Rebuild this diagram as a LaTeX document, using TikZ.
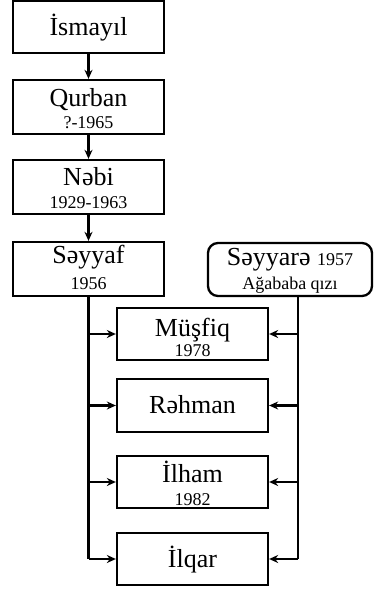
\documentclass[tikz,border=0pt]{standalone}
\usepackage{fontspec}
\setmainfont{Liberation Serif}
\usetikzlibrary{arrows.meta}
\begin{document}
\begin{tikzpicture}[x=1pt,y=-1pt,
  box/.style={draw, line width=2.3pt, minimum width=151pt, minimum height=52pt, inner sep=0pt},
  rbox/.style={box, rounded corners=10pt, minimum width=164pt},
  nm/.style={anchor=base, inner sep=0pt, font=\fontsize{26}{26}\selectfont},
  dt/.style={anchor=base, inner sep=0pt, font=\fontsize{18}{18}\selectfont},
  conn/.style={line width=2.3pt, -{Stealth[length=9pt,width=8pt]}},
  trunk/.style={line width=2.3pt}]
\useasboundingbox (0,0) rectangle (377,590);
% left column
\node[box] (ism) at (88.5,27) {};
\node[nm] (ism-n) at (88.5,35.5) {İsmayıl};
\node[box, minimum height=54pt] (qur) at (88.5,107) {};
\node[nm] (qur-n) at (88.5,106) {Qurban};
\node[dt] (qur-d) at (88.5,128) {?-1965};
\node[box, minimum height=54pt] (neb) at (88.5,187) {};
\node[nm] (neb-n) at (88.5,185) {Nəbi};
\node[dt] (neb-d) at (88.5,208) {1929-1963};
\node[box, minimum height=54pt] (sey) at (88.5,269) {};
\node[nm] (sey-n) at (88.5,263) {Səyyaf};
\node[dt] (sey-d) at (88.5,289) {1956};
% mother
\node[rbox, minimum height=53pt] (ma) at (290,269.5) {};
\node[anchor=base, inner sep=0pt] (ma-n) at (290,265) {\fontsize{26}{26}\selectfont Səyyarə \fontsize{18}{18}\selectfont 1957};
\node[dt] (ma-d) at (290,289) {Ağababa qızı};
% children
\node[box] (mus) at (192.5,334) {};
\node[nm] (mus-n) at (192.5,336) {Müşfiq};
\node[dt] (mus-d) at (192.5,356) {1978};
\node[box, minimum height=53pt] (reh) at (192.5,405.5) {};
\node[nm] (reh-n) at (192.5,413) {Rəhman};
\node[box] (ilh) at (192.5,482) {};
\node[nm] (ilh-n) at (192.5,482) {İlham};
\node[dt] (ilh-d) at (192.5,505) {1982};
\node[box] (ilq) at (192.5,559) {};
\node[nm] (ilq-n) at (192.5,567) {İlqar};
% vertical chain
\draw[conn] (ism.south) -- (qur.north);
\draw[conn] (qur.south) -- (neb.north);
\draw[conn] (neb.south) -- (sey.north);
% left trunk
\draw[trunk] (sey.south) -- (sey.south |- ilq.west);
\draw[conn] (sey.south |- mus.west) -- (mus.west);
\draw[conn] (sey.south |- reh.west) -- (reh.west);
\draw[conn] (sey.south |- ilh.west) -- (ilh.west);
\draw[conn] (sey.south |- ilq.west) -- (ilq.west);
% right trunk
\coordinate (rt) at (298,296);
\draw[trunk] (rt) -- (rt |- ilq.east);
\draw[conn] (rt |- mus.east) -- (mus.east);
\draw[conn] (rt |- reh.east) -- (reh.east);
\draw[conn] (rt |- ilh.east) -- (ilh.east);
\draw[conn] (rt |- ilq.east) -- (ilq.east);
\end{tikzpicture}
\end{document}
